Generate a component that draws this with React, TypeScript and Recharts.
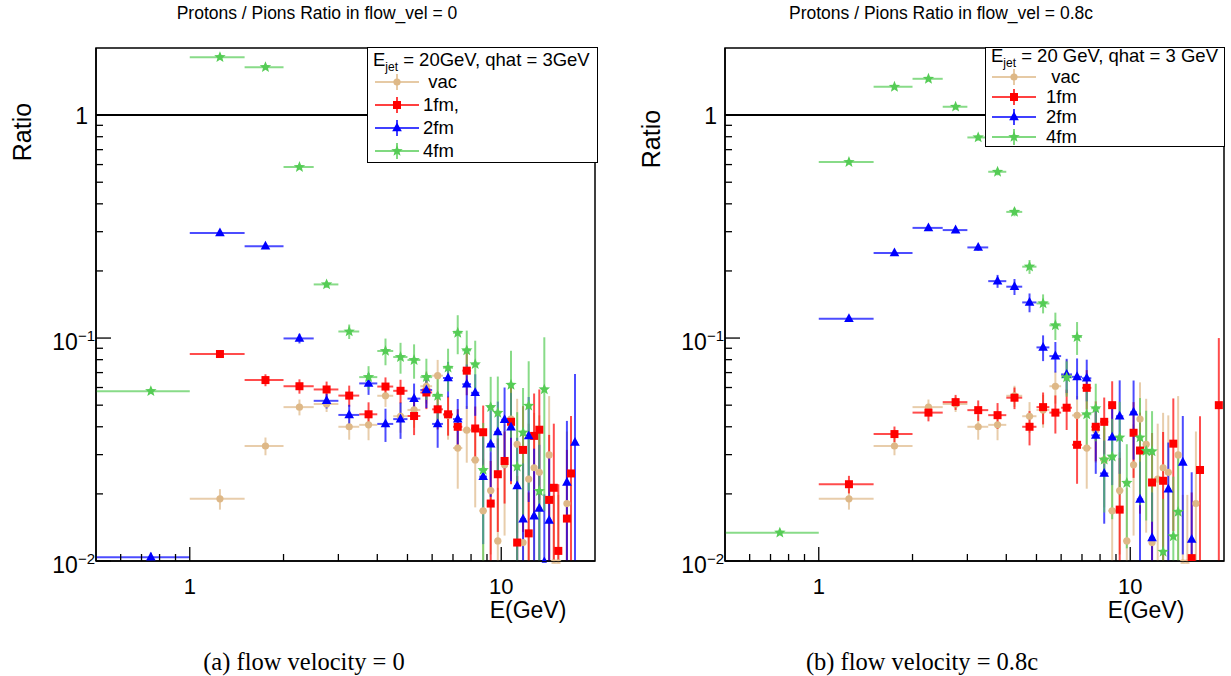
import React from "react";
import { ScatterChart, Scatter, XAxis, YAxis, ErrorBar, ReferenceLine, ReferenceArea } from "recharts";

const SANS = "'Liberation Sans', Arial, Helvetica, sans-serif";
const SERIF = "'Liberation Serif', 'Times New Roman', serif";

// bin centres (GeV), 0.5 GeV wide bins
const binCenters = [0.75, 1.25, 1.75, 2.25, 2.75, 3.25, 3.75, 4.25, 4.75, 5.25, 5.75, 6.25, 6.75, 7.25, 7.75, 8.25, 8.75, 9.25, 9.75, 10.25, 10.75, 11.25, 11.75, 12.25, 12.75, 13.25, 13.75, 14.25, 14.75, 15.25, 15.75, 16.25, 16.75, 17.25, 17.75, 18.25, 18.75, 19.25, 19.75];
const binHalfWidth = 0.25;

const xDomain = [0.5, 20];
const yDomain = [0.01, 2];
const xTicks = [0.6, 0.7, 0.8, 0.9, 1, 2, 3, 4, 5, 6, 7, 8, 9, 10];
const yTicks = [0.01, 0.02, 0.03, 0.04, 0.05, 0.06, 0.07, 0.08, 0.09, 0.1, 0.2, 0.3, 0.4, 0.5, 0.6, 0.7, 0.8, 0.9, 1];
const xMajor = [1, 10];
const yMajor = [0.01, 0.1, 1];

// vacuum (same in both panels)
const vacRatio = [null, 0.019, 0.0328, 0.049, 0.0506, 0.040, 0.0408, 0.0551, 0.0446, 0.0476, 0.0608, 0.0678, 0.045, 0.0321, 0.0386, 0.0284, 0.0168, 0.0207, 0.0123, 0.027, 0.0433, 0.0334, 0.0121, 0.0233, 0.0262, 0.025, null, 0.0299, 0.0098, 0.0098, null, 0.0181, null, null, null, null, null, null, null];
const vacErr = [null, 0.002, 0.003, 0.004, 0.004, 0.005, 0.006, 0.006, 0.007, 0.008, 0.01, 0.012, 0.01, 0.011, 0.011, 0.011, 0.012, 0.01, 0.009, 0.014, 0.02, 0.02, 0.011, 0.018, 0.02, 0.02, null, 0.025, 0.01, 0.01, null, 0.02, null, null, null, null, null, null, null];

// flow_vel = 0
const fm1Flow0 = [null, 0.0848, 0.0648, 0.0608, 0.0588, 0.0552, 0.0455, 0.0606, 0.058, 0.0447, 0.057, 0.0479, 0.0455, 0.040, 0.0714, 0.0393, 0.0378, 0.0181, 0.0245, 0.0281, 0.0421, 0.0121, 0.0315, 0.0133, 0.0364, 0.0388, null, 0.0188, 0.0213, 0.0111, null, 0.0155, 0.0247, null, null, null, null, null, null];
const fm1Flow0Err = [null, 0.003, 0.004, 0.0045, 0.005, 0.006, 0.006, 0.006, 0.007, 0.008, 0.009, 0.009, 0.009, 0.008, 0.016, 0.01, 0.012, 0.01, 0.011, 0.01, 0.02, 0.012, 0.018, 0.007, 0.02, 0.02, null, 0.018, 0.02, 0.011, null, 0.016, 0.02, null, null, null, null, null, null];
const fm2Flow0 = [0.0104, 0.296, 0.258, 0.0996, 0.0523, 0.0452, 0.0626, 0.0412, 0.0433, 0.0535, 0.0585, 0.0412, 0.0662, 0.0433, 0.0621, 0.0568, 0.0239, 0.0334, 0.0379, 0.043, 0.0398, 0.0217, 0.0154, 0.0364, 0.0159, 0.0172, 0.0099, 0.0152, null, null, null, 0.0225, null, 0.034, null, null, null, null, null];
const fm2Flow0Err = [0.0005, 0.008, 0.007, 0.005, 0.004, 0.005, 0.007, 0.007, 0.008, 0.009, 0.01, 0.009, 0.012, 0.01, 0.014, 0.012, 0.012, 0.014, 0.014, 0.017, 0.017, 0.014, 0.012, 0.018, 0.016, 0.016, 0.01, 0.015, null, null, null, 0.02, null, 0.035, null, null, null, null, null];
const fm4Flow0 = [0.0578, 1.82, 1.64, 0.585, 0.174, 0.107, 0.0668, 0.0875, 0.0822, 0.0797, 0.0668, 0.055, 0.0736, 0.1056, 0.088, 0.0763, 0.0256, 0.049, 0.0462, null, 0.0617, 0.0265, 0.0377, 0.0497, null, 0.0206, 0.0588, null, null, null, null, null, null, null, null, null, null, null, null];
const fm4Flow0Err = [0.001, 0.03, 0.03, 0.015, 0.006, 0.008, 0.008, 0.012, 0.013, 0.014, 0.014, 0.013, 0.016, 0.021, 0.02, 0.021, 0.016, 0.018, 0.021, null, 0.026, 0.02, 0.022, 0.029, null, 0.02, 0.042, null, null, null, null, null, null, null, null, null, null, null, null];

// flow_vel = 0.8c
const fm1Flow08 = [null, 0.0221, 0.0371, 0.0463, 0.0516, 0.0475, 0.0451, 0.054, 0.040, 0.049, 0.0463, 0.0487, 0.0332, 0.0598, 0.040, 0.0421, 0.050, 0.017, null, 0.0376, 0.0313, null, 0.0225, null, 0.0229, null, 0.0336, null, null, null, 0.0103, null, 0.0256, null, null, null, null, 0.050, null];
const fm1Flow08Err = [null, 0.002, 0.003, 0.004, 0.004, 0.005, 0.006, 0.006, 0.007, 0.008, 0.009, 0.01, 0.011, 0.012, 0.012, 0.012, 0.014, 0.012, null, 0.014, 0.015, null, 0.015, null, 0.015, null, 0.02, null, null, null, 0.01, null, 0.019, null, null, null, null, 0.05, null];
const fm2Flow08 = [null, 0.122, 0.241, 0.312, 0.305, 0.255, 0.18, 0.17, 0.1445, 0.0908, 0.083, 0.0687, 0.067, 0.066, 0.0366, 0.0247, 0.0359, 0.0446, null, 0.0465, 0.0189, null, 0.0127, null, null, 0.021, null, null, 0.0277, null, 0.0125, null, null, null, null, null, null, null, null];
const fm2Flow08Err = [null, 0.003, 0.005, 0.007, 0.007, 0.008, 0.012, 0.014, 0.014, 0.012, 0.013, 0.012, 0.014, 0.014, 0.012, 0.01, 0.014, 0.02, null, 0.018, 0.009, null, 0.0076, null, null, 0.013, null, null, 0.017, null, 0.0125, null, null, null, null, null, null, null, null];
const fm4Flow08 = [0.0134, 0.616, 1.34, 1.455, 1.09, 0.794, 0.557, 0.368, 0.209, 0.143, 0.114, 0.0666, 0.101, 0.0455, 0.0484, 0.0285, 0.0294, 0.0358, 0.0224, null, 0.0358, 0.0312, 0.031, null, 0.011, null, 0.0129, 0.0166, null, null, null, null, null, null, null, null, null, null, null];
const fm4Flow08Err = [0.0003, 0.01, 0.03, 0.035, 0.03, 0.025, 0.02, 0.016, 0.015, 0.014, 0.016, 0.012, 0.017, 0.014, 0.014, 0.012, 0.014, 0.016, 0.011, null, 0.018, 0.016, 0.016, null, 0.008, null, 0.011, 0.014, null, null, null, null, null, null, null, null, null, null, null];

const COLORS: Record<string, string> = { vac: "#DEB887", fm1: "#FF0000", fm2: "#0000FF", fm4: "#55CC55" };

type Pt = { x: number; y: number; ey: [number, number]; ex: [number, number] };

// error bars are cut at the lower edge of the frame (as the plot does)
function buildPoints(values: (number | null)[], errors: (number | null)[]): Pt[] {
  const out: Pt[] = [];
  values.forEach((v, i) => {
    if (v == null) return;
    const e = errors[i] ?? 0;
    const low = Math.max(0, Math.min(e, v - yDomain[0]));
    out.push({ x: binCenters[i], y: v, ey: [low, e], ex: [binHalfWidth, binHalfWidth] });
  });
  return out;
}

function starPath(cx: number, cy: number, R: number, r: number) {
  let d = "";
  for (let k = 0; k < 10; k++) {
    const a = -Math.PI / 2 + (k * Math.PI) / 5;
    const rad = k % 2 === 0 ? R : r;
    d += (k ? "L" : "M") + (cx + rad * Math.cos(a)).toFixed(2) + "," + (cy + rad * Math.sin(a)).toFixed(2);
  }
  return d + "Z";
}

function Marker({ kind, cx, cy }: { kind: string; cx: number; cy: number }) {
  const c = COLORS[kind];
  if (kind === "vac") return <circle cx={cx} cy={cy} r={3.6} fill={c} />;
  if (kind === "fm1") return <rect x={cx - 4} y={cy - 4} width={8} height={8} fill={c} />;
  if (kind === "fm2") return <path d={`M${cx},${cy - 5.5}L${cx + 4.8},${cy + 3.3}L${cx - 4.8},${cy + 3.3}Z`} fill={c} />;
  return <path d={starPath(cx, cy, 6, 2.6)} fill={c} />;
}

const makeShape = (kind: string) => (p: any) => {
  if (p == null || p.cx == null || p.cy == null) return <g />;
  return <Marker kind={kind} cx={p.cx} cy={p.cy} />;
};

const XTick = (props: any) => {
  const { x, y, payload } = props;
  const v = payload.value;
  const major = xMajor.includes(v);
  return (
    <g>
      <line x1={x} x2={x} y1={y} y2={y - (major ? 14 : 7)} stroke="#000" strokeWidth={1.3} />
      {major && (
        <text x={x} y={y + 33} textAnchor="middle" fontSize={22} fontFamily={SANS} fill="#000">
          {String(v)}
        </text>
      )}
    </g>
  );
};

const YTick = (props: any) => {
  const { x, y, payload } = props;
  const v = payload.value;
  const major = yMajor.some((m) => Math.abs(m - v) < 1e-9);
  const exp = Math.round(Math.log10(v));
  return (
    <g>
      <line x1={x} x2={x + (major ? 15 : 7)} y1={y} y2={y} stroke="#000" strokeWidth={1.3} />
      {major && exp === 0 && (
        <text x={x - 8} y={y + 9} textAnchor="end" fontSize={23} fontFamily={SANS} fill="#000">1</text>
      )}
      {major && exp !== 0 && (
        <text x={x - 1} y={y + 12} textAnchor="end" fontSize={23} fontFamily={SANS} fill="#000">
          10<tspan fontSize={15} dy={-9}>{"\u2212" + String(-exp)}</tspan>
        </text>
      )}
    </g>
  );
};

type Series = { kind: string; data: Pt[] };

function Panel({ width, margin, series }: { width: number; margin: any; series: Series[] }) {
  return (
    <ScatterChart width={width} height={676} margin={margin}>
      <XAxis
        type="number"
        dataKey="x"
        scale="log"
        domain={xDomain}
        allowDataOverflow
        ticks={xTicks}
        interval={0}
        tick={XTick}
        tickLine={false}
        tickSize={0}
        tickMargin={0}
        height={1}
        axisLine={{ stroke: "#000", strokeWidth: 1.5 }}
      />
      <YAxis
        type="number"
        dataKey="y"
        scale="log"
        domain={yDomain}
        allowDataOverflow
        ticks={yTicks}
        interval={0}
        tick={YTick}
        tickLine={false}
        tickSize={0}
        tickMargin={0}
        width={1}
        axisLine={{ stroke: "#000", strokeWidth: 1.5 }}
      />
      <ReferenceArea x1={xDomain[0]} x2={xDomain[1]} y1={yDomain[0]} y2={yDomain[1]} fill="none" fillOpacity={0} stroke="#000" strokeWidth={1.5} ifOverflow="visible" />
      <ReferenceLine y={1} stroke="#000" strokeWidth={2} />
      {series.map((s) => (
        <Scatter key={s.kind} data={s.data} shape={makeShape(s.kind)} isAnimationActive={false}>
          <ErrorBar dataKey="ey" direction="y" width={0} stroke={COLORS[s.kind]} strokeWidth={2} strokeOpacity={0.7} isAnimationActive={false} />
          <ErrorBar dataKey="ex" direction="x" width={0} stroke={COLORS[s.kind]} strokeWidth={2} strokeOpacity={0.7} isAnimationActive={false} />
        </Scatter>
      ))}
    </ScatterChart>
  );
}

function LegendMark({ kind }: { kind: string }) {
  const c = COLORS[kind];
  return (
    <svg width={44} height={20} style={{ display: "block" }}>
      <line x1={0} x2={44} y1={10} y2={10} stroke={c} strokeWidth={2} strokeOpacity={0.75} />
      <line x1={22} x2={22} y1={2} y2={18} stroke={c} strokeWidth={2} strokeOpacity={0.75} />
      <Marker kind={kind} cx={22} cy={10} />
    </svg>
  );
}

function LegendBox(props: {
  left: number; top: number; width: number; height: number;
  header: string; headerTop: number; rowTops: number[]; labels: string[];
  markLeft: number; labelLeft: number;
}) {
  const kinds = ["vac", "fm1", "fm2", "fm4"];
  const parts = props.header.split("|");
  return (
    <div
      style={{
        position: "absolute", left: props.left, top: props.top, width: props.width, height: props.height,
        background: "#fff", border: "1.5px solid #000", boxSizing: "border-box", fontFamily: SANS, color: "#000",
      }}
    >
      <div style={{ position: "absolute", left: 5, top: props.headerTop, fontSize: 18.5, lineHeight: "20px", whiteSpace: "pre" }}>
        {parts[0]}
        <sub style={{ fontSize: 12, verticalAlign: "-5px" }}>jet</sub>
        {parts[1]}
      </div>
      {kinds.map((k, i) => (
        <React.Fragment key={k}>
          <div style={{ position: "absolute", left: props.markLeft, top: props.rowTops[i] - 10 }}>
            <LegendMark kind={k} />
          </div>
          <div style={{ position: "absolute", left: props.labelLeft, top: props.rowTops[i] - 11, fontSize: 18.5, lineHeight: "22px", whiteSpace: "pre" }}>
            {props.labels[i]}
          </div>
        </React.Fragment>
      ))}
    </div>
  );
}

const textStyle = (extra: any) => ({ position: "absolute" as const, whiteSpace: "nowrap" as const, color: "#000", ...extra });

export default function App() {
  const leftSeries: Series[] = [
    { kind: "vac", data: buildPoints(vacRatio, vacErr) },
    { kind: "fm1", data: buildPoints(fm1Flow0, fm1Flow0Err) },
    { kind: "fm2", data: buildPoints(fm2Flow0, fm2Flow0Err) },
    { kind: "fm4", data: buildPoints(fm4Flow0, fm4Flow0Err) },
  ];
  const rightSeries: Series[] = [
    { kind: "vac", data: buildPoints(vacRatio, vacErr) },
    { kind: "fm1", data: buildPoints(fm1Flow08, fm1Flow08Err) },
    { kind: "fm2", data: buildPoints(fm2Flow08, fm2Flow08Err) },
    { kind: "fm4", data: buildPoints(fm4Flow08, fm4Flow08Err) },
  ];
  return (
    <div style={{ position: "absolute", left: 0, top: 0, width: 1231, height: 676, background: "#fff", overflow: "hidden" }}>
      <div style={{ position: "absolute", left: 0, top: 0 }}>
        <Panel width={615} margin={{ top: 48, right: 20, bottom: 114, left: 95 }} series={leftSeries} />
      </div>
      <div style={{ position: "absolute", left: 615, top: 0 }}>
        <Panel width={616} margin={{ top: 48, right: 7, bottom: 114, left: 109 }} series={rightSeries} />
      </div>

      {/* titles */}
      <div style={textStyle({ left: 317, top: 3, transform: "translateX(-50%)", fontFamily: SANS, fontSize: 17.5 })}>
        Protons / Pions Ratio in flow_vel = 0
      </div>
      <div style={textStyle({ left: 941, top: 3, transform: "translateX(-50%)", fontFamily: SANS, fontSize: 17.5 })}>
        Protons / Pions Ratio in flow_vel = 0.8c
      </div>

      {/* y titles */}
      <div style={textStyle({ left: 22, top: 132, transform: "translate(-50%, -50%) rotate(-90deg)", fontFamily: SANS, fontSize: 25 })}>
        Ratio
      </div>
      <div style={textStyle({ left: 651, top: 139, transform: "translate(-50%, -50%) rotate(-90deg)", fontFamily: SANS, fontSize: 25 })}>
        Ratio
      </div>

      {/* x titles */}
      <div style={textStyle({ left: 528, top: 610, transform: "translate(-50%, -50%)", fontFamily: SANS, fontSize: 23, lineHeight: "20px" })}>
        E(GeV)
      </div>
      <div style={textStyle({ left: 1146, top: 610, transform: "translate(-50%, -50%)", fontFamily: SANS, fontSize: 23, lineHeight: "20px" })}>
        E(GeV)
      </div>

      {/* captions */}
      <div style={textStyle({ left: 304, top: 662, transform: "translate(-50%, -50%)", fontFamily: SERIF, fontSize: 24.5 })}>
        (a) flow velocity = 0
      </div>
      <div style={textStyle({ left: 922, top: 662, transform: "translate(-50%, -50%)", fontFamily: SERIF, fontSize: 24.5 })}>
        (b) flow velocity = 0.8c
      </div>

      <LegendBox
        left={367} top={47} width={231} height={116}
        header={"E| = 20GeV, qhat = 3GeV"} headerTop={2}
        rowTops={[34, 57, 80, 103]} labels={[" vac", "1fm,", "2fm", "4fm"]}
        markLeft={7} labelLeft={55}
      />
      <LegendBox
        left={985} top={47} width={240} height={100}
        header={"E| = 20 GeV, qhat = 3 GeV"} headerTop={-2}
        rowTops={[29, 49, 69, 89]} labels={[" vac", "1fm", "2fm", "4fm"]}
        markLeft={6} labelLeft={60}
      />
    </div>
  );
}
